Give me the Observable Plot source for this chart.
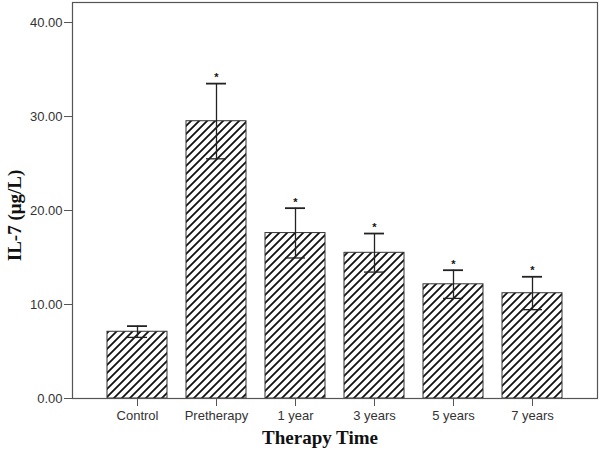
<!DOCTYPE html>
<html>
<head>
<meta charset="utf-8">
<script src="https://cdn.jsdelivr.net/npm/d3@7"></script>
<script src="https://cdn.jsdelivr.net/npm/@observablehq/plot@0.6"></script>
<style>
  html, body { margin: 0; padding: 0; background: #fff; }
  #chart svg { display: block; }
</style>
</head>
<body>
<div id="chart"></div>
<script>
const categories = ["Control", "Pretherapy", "1 year", "3 years", "5 years", "7 years"];
const means = [7.1, 29.5, 17.6, 15.5, 12.15, 11.2];
const errors = [0.6, 4.0, 2.65, 2.05, 1.5, 1.75];
const significant = [false, true, true, true, true, true];
const yTicks = [0, 10, 20, 30, 40];

const data = categories.map((c, i) => ({
  cat: c, mean: means[i], lo: means[i] - errors[i], hi: means[i] + errors[i], sig: significant[i]
}));

const chart = Plot.plot({
  width: 600,
  height: 455,
  marginTop: 2,
  marginRight: 3,
  marginBottom: 57,
  marginLeft: 72,
  style: { fontFamily: "Liberation Sans, Arial, sans-serif", fontSize: "13px", color: "#333", background: "#fff" },
  x: { domain: categories, paddingInner: 0.24, paddingOuter: 0.44, label: null },
  y: { domain: [0, 42.13], label: null },
  marks: [
    Plot.barY(data, { x: "cat", y: "mean", fill: "url(#hatch)", stroke: "#333", strokeWidth: 1 }),
    Plot.ruleX(data, { x: "cat", y1: "lo", y2: "hi", stroke: "#222", strokeWidth: 1.3 }),
    Plot.tickY(data, { x: "cat", y: "hi", stroke: "#222", strokeWidth: 1.8, inset: 20 }),
    Plot.tickY(data, { x: "cat", y: "lo", stroke: "#222", strokeWidth: 1.3, inset: 20 }),
    Plot.text(data.filter(d => d.sig), { x: "cat", y: "hi", text: () => "*", dy: -6, fontSize: 11, fill: "#111", fontWeight: "bold" }),
    Plot.frame({ stroke: "#555", strokeWidth: 1.2 }),
    Plot.axisY({ ticks: yTicks, tickFormat: d => d.toFixed(2), tickSize: 8, tickPadding: 2, label: null, stroke: "#555", fill: "#333" }),
    Plot.axisX({ tickSize: 8, tickPadding: 4, label: null, stroke: "#555", fill: "#333" }),
    Plot.text(["Therapy Time"], { frameAnchor: "bottom", textAnchor: "middle", dy: 45, dx: -15, fontFamily: "Liberation Serif, Times New Roman, serif", fontWeight: "bold", fontSize: 19, fill: "#111" }),
    Plot.text(["IL-7 (μg/L)"], { frameAnchor: "left", textAnchor: "middle", dx: -58, dy: 15, rotate: -90, fontFamily: "Liberation Serif, Times New Roman, serif", fontWeight: "bold", fontSize: 19, fill: "#111" })
  ]
});

// hatch pattern definition
const ns = "http://www.w3.org/2000/svg";
const defs = document.createElementNS(ns, "defs");
defs.innerHTML = `<pattern id="hatch" patternUnits="userSpaceOnUse" width="8" height="8">
  <rect width="8" height="8" fill="#fff"/>
  <path d="M-2,2 L2,-2 M0,8 L8,0 M6,10 L10,6" stroke="#111" stroke-width="1.8"/>
</pattern>`;
chart.insertBefore(defs, chart.firstChild);

document.getElementById("chart").appendChild(chart);
</script>
</body>
</html>
